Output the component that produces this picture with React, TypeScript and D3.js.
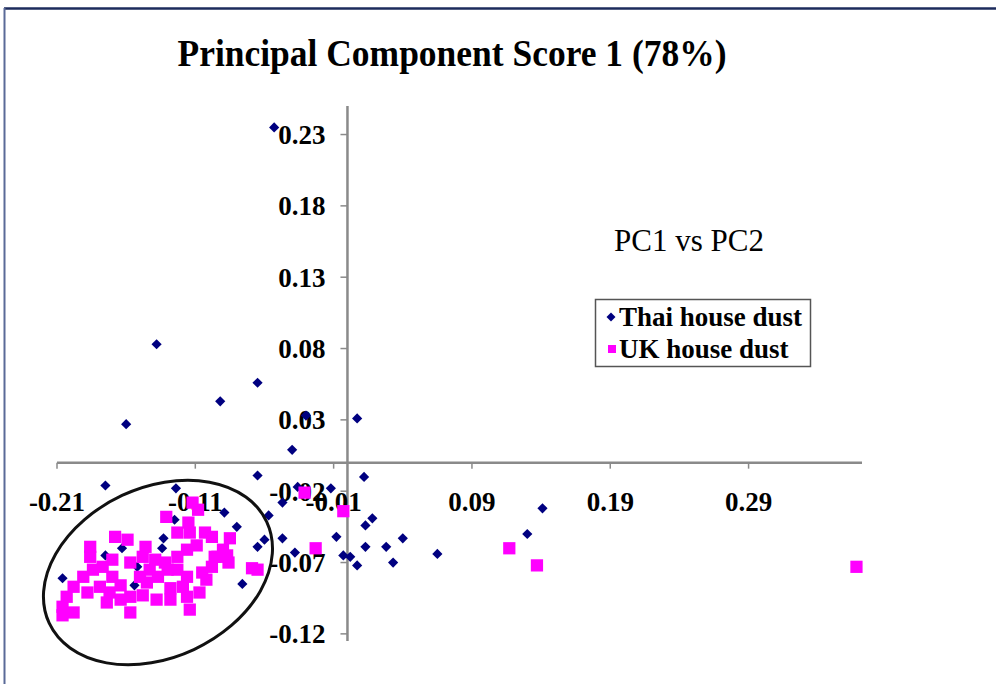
import React, { useRef, useEffect } from "react";
import * as d3 from "d3";

// PC1 / PC2 scores
const thaiDust: [number, number][] = [
  [-0.053, 0.235], [-0.138, 0.083], [-0.16, 0.027], [-0.092, 0.043],
  [-0.065, 0.056], [-0.03, 0.033], [0.007, 0.031], [-0.04, 0.009],
  [-0.065, -0.009], [-0.175, -0.016], [-0.124, -0.018], [-0.036, -0.017],
  [-0.012, -0.018], [-0.047, -0.028], [0.012, -0.01], [0.018, -0.039],
  [0.013, -0.044], [-0.008, -0.052], [0.013, -0.059], [0.028, -0.059],
  [0.04, -0.053], [-0.003, -0.065], [0.002, -0.066], [0.007, -0.072],
  [0.033, -0.07], [0.065, -0.064], [-0.038, -0.063], [-0.047, -0.053],
  [0.13, -0.05], [0.141, -0.032], [-0.089, -0.035], [-0.08, -0.045],
  [-0.057, -0.037], [-0.06, -0.054], [-0.065, -0.059], [-0.125, -0.04],
  [-0.133, -0.053], [-0.134, -0.06], [-0.163, -0.06], [-0.175, -0.065],
  [-0.206, -0.081], [-0.076, -0.085], [-0.152, -0.073], [-0.154, -0.086],
];

const ukDust: [number, number][] = [
  [-0.031, -0.021], [-0.003, -0.034], [-0.023, -0.06], [0.117, -0.06],
  [0.137, -0.072], [0.368, -0.073],
  [-0.112, -0.028], [-0.108, -0.033], [-0.131, -0.038], [-0.115, -0.042],
  [-0.168, -0.052], [-0.159, -0.054], [-0.186, -0.059], [-0.186, -0.066],
  [-0.146, -0.059], [-0.148, -0.066], [-0.123, -0.049], [-0.114, -0.049],
  [-0.103, -0.049], [-0.098, -0.052], [-0.085, -0.053], [-0.09, -0.061],
  [-0.096, -0.066], [-0.086, -0.07], [-0.069, -0.074], [-0.065, -0.075],
  [-0.109, -0.058], [-0.116, -0.061], [-0.123, -0.066], [-0.123, -0.075],
  [-0.13, -0.075], [-0.137, -0.08], [-0.143, -0.075], [-0.15, -0.08],
  [-0.157, -0.07], [-0.17, -0.068], [-0.177, -0.073], [-0.184, -0.075],
  [-0.198, -0.087], [-0.203, -0.094], [-0.206, -0.101], [-0.206, -0.107],
  [-0.198, -0.105], [-0.188, -0.091], [-0.179, -0.087], [-0.172, -0.091],
  [-0.164, -0.086], [-0.157, -0.094], [-0.157, -0.105], [-0.148, -0.093],
  [-0.138, -0.096], [-0.128, -0.096], [-0.128, -0.088], [-0.119, -0.087],
  [-0.116, -0.094], [-0.114, -0.103], [-0.107, -0.091], [-0.102, -0.082],
  [-0.105, -0.077], [-0.098, -0.073], [-0.116, -0.08], [-0.132, -0.07],
  [-0.139, -0.068], [-0.145, -0.084], [-0.17, -0.08], [-0.191, -0.08],
  [-0.174, -0.098], [-0.164, -0.096], [-0.087, -0.065], [-0.094, -0.066],
];

const xTicks = [-0.21, -0.11, -0.01, 0.09, 0.19, 0.29];
const yTicks = [-0.12, -0.07, -0.02, 0.03, 0.08, 0.13, 0.18, 0.23];

const seriesNames = ["Thai house dust", "UK house dust"];

const App = () => {
  const ref = useRef<SVGSVGElement>(null);

  useEffect(() => {
    const width = 996;
    const height = 684;
    const svg = d3.select(ref.current);
    svg.selectAll("*").remove();

    const serif = "'Liberation Serif', 'Times New Roman', serif";

    const x = d3.scaleLinear().domain([-0.21, 0.372]).range([57, 862]);
    const y = d3.scaleLinear().domain([-0.125, 0.25]).range([641, 106]);

    svg.append("rect").attr("width", width).attr("height", height).attr("fill", "#fff");

    // frame lines of the slide
    svg.append("line").attr("x1", 4).attr("x2", width).attr("y1", 8.5).attr("y2", 8.5)
      .attr("stroke", "#1c2b5c").attr("stroke-width", 2.5);
    svg.append("line").attr("x1", 4.5).attr("x2", 4.5).attr("y1", 8).attr("y2", height)
      .attr("stroke", "#5a6a98").attr("stroke-width", 2);

    // title
    svg.append("text")
      .attr("x", 452).attr("y", 66)
      .attr("text-anchor", "middle")
      .attr("font-family", serif).attr("font-weight", "bold").attr("font-size", 37)
      .attr("textLength", 549).attr("lengthAdjust", "spacingAndGlyphs")
      .text("Principal Component Score 1 (78%)");

    const axisColor = "#8a8a8a";
    const x0 = x(0);
    const y0 = y(0);

    // axes crossing at zero
    svg.append("line").attr("x1", x.range()[0]).attr("x2", x.range()[1])
      .attr("y1", y0).attr("y2", y0).attr("stroke", axisColor).attr("stroke-width", 2.5);
    svg.append("line").attr("x1", x0).attr("x2", x0)
      .attr("y1", y.range()[1]).attr("y2", y.range()[0]).attr("stroke", axisColor).attr("stroke-width", 2.5);

    svg.append("g").selectAll("line").data(xTicks).join("line")
      .attr("x1", (d) => x(d)).attr("x2", (d) => x(d))
      .attr("y1", y0).attr("y2", y0 + 6)
      .attr("stroke", axisColor).attr("stroke-width", 1.5);
    svg.append("g").selectAll("line").data(yTicks).join("line")
      .attr("x1", x0 - 7).attr("x2", x0)
      .attr("y1", (d) => y(d)).attr("y2", (d) => y(d))
      .attr("stroke", axisColor).attr("stroke-width", 1.5);

    svg.append("g")
      .attr("font-family", serif).attr("font-weight", "bold").attr("font-size", 27)
      .attr("text-anchor", "middle")
      .selectAll("text").data(xTicks).join("text")
      .attr("x", (d) => x(d)).attr("y", y0 + 48)
      .text((d) => d.toFixed(2));

    svg.append("g")
      .attr("font-family", serif).attr("font-weight", "bold").attr("font-size", 27)
      .attr("text-anchor", "end")
      .selectAll("text").data(yTicks).join("text")
      .attr("x", x0 - 22).attr("y", (d) => y(d)).attr("dy", "0.35em")
      .text((d) => d.toFixed(2));

    // points
    const diamond = d3.symbol(d3.symbolSquare, 52);
    const square = d3.symbol(d3.symbolSquare, 150);

    svg.append("g").attr("fill", "#000080")
      .selectAll("path").data(thaiDust).join("path")
      .attr("d", diamond)
      .attr("transform", (d) => `translate(${x(d[0])},${y(d[1])}) rotate(45)`);

    svg.append("g").attr("fill", "#ff00ff")
      .selectAll("path").data(ukDust).join("path")
      .attr("d", square)
      .attr("transform", (d) => `translate(${x(d[0])},${y(d[1])})`);

    // ellipse around the cluster
    svg.append("ellipse")
      .attr("transform", `translate(${x(-0.137)},${y(-0.077)}) rotate(-25)`)
      .attr("rx", 120).attr("ry", 85)
      .attr("fill", "none").attr("stroke", "#111").attr("stroke-width", 3);

    // annotation
    svg.append("text")
      .attr("x", 614).attr("y", 251)
      .attr("font-family", serif).attr("font-size", 31)
      .text("PC1 vs PC2");

    // legend
    const legend = svg.append("g");
    legend.append("rect")
      .attr("x", 595.5).attr("y", 299.5).attr("width", 215).attr("height", 67)
      .attr("fill", "#fff").attr("stroke", "#555").attr("stroke-width", 1.5);
    legend.append("path").attr("d", d3.symbol(d3.symbolSquare, 40)())
      .attr("transform", "translate(611,317) rotate(45)").attr("fill", "#000080");
    legend.append("path").attr("d", d3.symbol(d3.symbolSquare, 64)())
      .attr("transform", "translate(612,349)").attr("fill", "#ff00ff");
    legend.selectAll("text").data(seriesNames).join("text")
      .attr("x", 619).attr("y", (d, i) => 326 + i * 32)
      .attr("font-family", serif).attr("font-weight", "bold").attr("font-size", 27)
      .text((d) => d);
  }, []);

  return (
    <svg
      ref={ref}
      width={996}
      height={684}
      style={{ position: "absolute", left: 0, top: 0 }}
    />
  );
};

export default App;
